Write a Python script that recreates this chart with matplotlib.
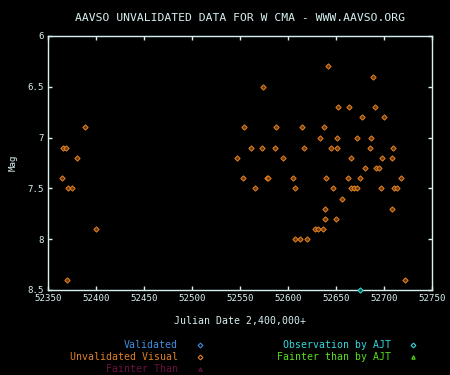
import matplotlib
matplotlib.use('Agg')
import matplotlib.pyplot as plt
import numpy as np

# unvalidated visual estimates (JD - 2400000, magnitude)
jd = [52389, 52366, 52369, 52380, 52365, 52371, 52375, 52400, 52370,
      52642,
      52689,
      52574,
      52652, 52664, 52691,
      52677, 52700,
      52554, 52588, 52615, 52637,
      52633, 52651, 52672, 52686,
      52561, 52573, 52586, 52617, 52645, 52651, 52685, 52709,
      52547, 52595, 52666, 52698, 52708,
      52680, 52692, 52695,
      52553, 52578, 52579, 52605, 52640, 52662, 52675, 52718,
      52566, 52607, 52647, 52666, 52669, 52672, 52697, 52710, 52714,
      52656,
      52639, 52708,
      52639, 52650,
      52628, 52631, 52636,
      52607, 52613, 52620,
      52722]
mag = [6.9, 7.1, 7.1, 7.2, 7.4, 7.5, 7.5, 7.9, 8.4,
       6.3,
       6.4,
       6.5,
       6.7, 6.7, 6.7,
       6.8, 6.8,
       6.9, 6.9, 6.9, 6.9,
       7.0, 7.0, 7.0, 7.0,
       7.1, 7.1, 7.1, 7.1, 7.1, 7.1, 7.1, 7.1,
       7.2, 7.2, 7.2, 7.2, 7.2,
       7.3, 7.3, 7.3,
       7.4, 7.4, 7.4, 7.4, 7.4, 7.4, 7.4, 7.4,
       7.5, 7.5, 7.5, 7.5, 7.5, 7.5, 7.5, 7.5, 7.5,
       7.6,
       7.7, 7.7,
       7.8, 7.8,
       7.9, 7.9, 7.9,
       8.0, 8.0, 8.0,
       8.4]

# observation by AJT
ajt_jd = [52675]
ajt_mag = [8.5]

xticks = [52350, 52400, 52450, 52500, 52550, 52600, 52650, 52700, 52750]
yticks = [6, 6.5, 7, 7.5, 8, 8.5]
ytick_labels = ['6', '6.5', '7', '7.5', '8', '8.5']

fg = '#d8f0f0'
orange = '#e8821e'
mono = 'DejaVu Sans Mono'

fig = plt.figure(figsize=(4.5, 3.75), dpi=100, facecolor='black')
ax = fig.add_axes([48/450, 1-290/375, 384/450, 254/375], facecolor='black')

ax.plot(jd, mag, linestyle='none', marker='D', markersize=2.7,
        markerfacecolor='#6a3a10', markeredgecolor=orange, markeredgewidth=0.7,
        clip_on=False)
ax.plot(ajt_jd, ajt_mag, linestyle='none', marker='D', markersize=2.7,
        markerfacecolor='#0a5a5a', markeredgecolor='#30e0d8', markeredgewidth=0.7,
        clip_on=False, zorder=5)

ax.set_xlim(52350, 52750)
ax.set_ylim(8.5, 6)
ax.set_xticks(xticks)
ax.set_yticks(yticks)
ax.set_yticklabels(ytick_labels)

for s in ax.spines.values():
    s.set_color(fg)
    s.set_linewidth(1.0)
ax.tick_params(direction='in', length=3, width=1, color=fg, labelcolor=fg,
               labelsize=6.6, top=True, right=True, pad=3)
for lab in ax.get_xticklabels() + ax.get_yticklabels():
    lab.set_family(mono)

ax.set_xlabel('Julian Date 2,400,000+', color=fg, fontsize=7.1, family=mono, labelpad=9)
ax.set_ylabel('Mag', color=fg, fontsize=6.6, family=mono, labelpad=7)

fig.text(240/450, 1-18/375, 'AAVSO UNVALIDATED DATA FOR W CMA - WWW.AAVSO.ORG',
         color=fg, fontsize=8.2, family=mono, ha='center', va='center')

# key below the plot
key = fig.add_axes([0, 0, 1, 1], facecolor='none')
key.set_xlim(0, 450)
key.set_ylim(375, 0)
key.axis('off')
entries = [
    ('Validated', '#3f8fe0', 'D', 178, 199.5, 344.5),
    ('Unvalidated Visual', '#e0802a', 'D', 178, 199.5, 357),
    ('Fainter Than', '#6a1040', '^', 178, 199.5, 369),
    ('Observation by AJT', '#30d8e0', 'D', 391, 412.5, 344.5),
    ('Fainter than by AJT', '#58e020', '^', 391, 412.5, 357),
]
for label, col, mk, tx, mx, y in entries:
    key.text(tx, y, label, color=col, fontsize=7.1, family=mono, ha='right', va='center')
    key.plot([mx], [y], linestyle='none', marker=mk, markersize=2.4,
             markerfacecolor='none', markeredgecolor=col, markeredgewidth=0.8)

fig.savefig('out.png', dpi=100, facecolor='black')
